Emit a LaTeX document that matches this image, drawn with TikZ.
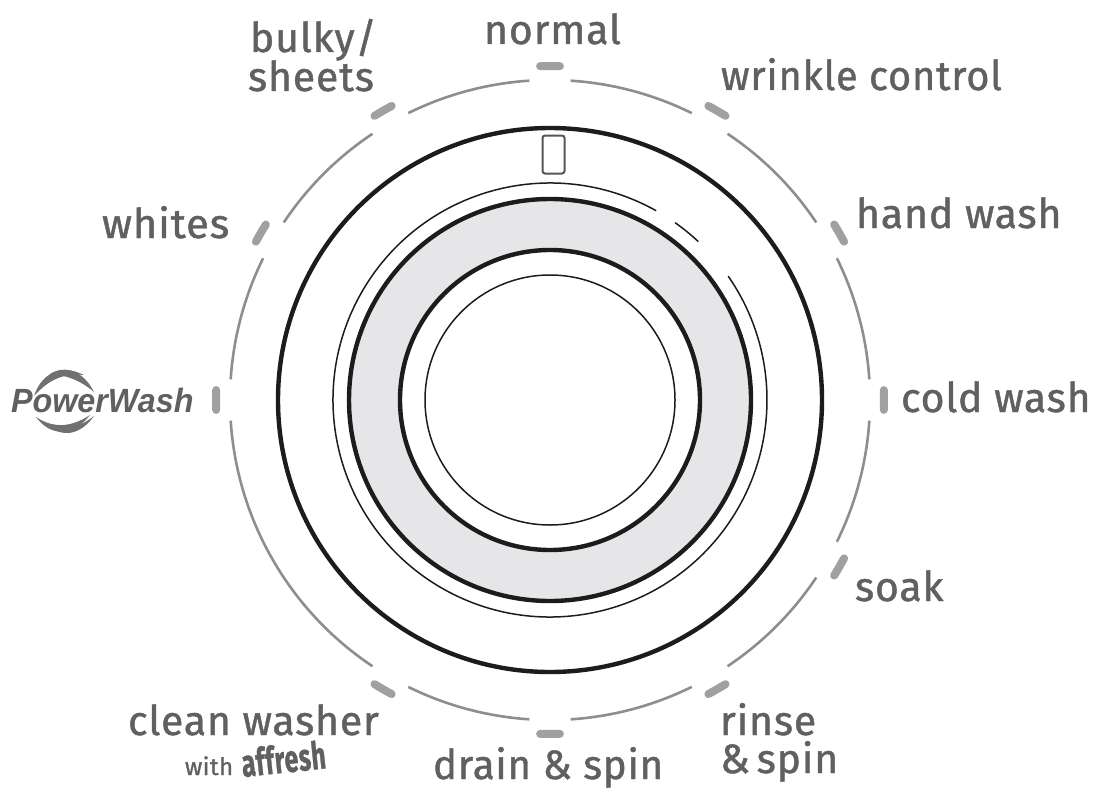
\documentclass[tikz,border=0pt]{standalone}
\usepackage{fontspec}
\usepackage{graphicx}
\usetikzlibrary{calc}
\setmainfont{Fira Sans}[LetterSpace=2,FakeBold=1.1]
\newfontfamily\pwfont{Liberation Sans}[Scale=1]
\definecolor{lbl}{HTML}{606060}
\definecolor{tickc}{HTML}{A0A0A0}
\definecolor{arcc}{HTML}{8E8E8E}
\definecolor{ringfill}{HTML}{E6E6E9}
\definecolor{ringk}{HTML}{1C1C1C}
\tikzset{
  x=1pt,y=-1pt,
  lab/.style={anchor=base west,inner sep=0pt,outer sep=0pt,text=lbl,font=\fontsize{41}{43}\selectfont},
  tick/.style={line width=8pt,color=tickc,line cap=round},
  seg/.style={line width=2.6pt,color=arcc},
  heavy/.style={line width=4.4pt,color=ringk},
  fine/.style={line width=1.5pt,color=ringk},
  swirl/.style={fill=lbl!90!white}
}
\begin{document}
\begin{tikzpicture}
\useasboundingbox (0,0) rectangle (1099,789);
\coordinate (c) at (550,400);
% dial rings
\draw[heavy] (c) circle[radius=272];
\fill[ringfill] (c) circle[radius=201];
\fill[white] (c) circle[radius=150];
\draw[heavy] (c) circle[radius=201];
\draw[heavy] (c) circle[radius=150];
\draw[fine] (c) circle[radius=125];
% thin broken ring
\draw[fine] ($(c)+(-60.7:217)$) arc[start angle=-60.7,end angle=-394.8,radius=217];
\draw[fine] ($(c)+(-54.8:217)$) arc[start angle=-54.8,end angle=-46.9,radius=217];
% outer segments
\foreach \a/\b in {3.7/26.3,33.7/56.3,63.7/86.3,93.7/116.3,123.7/146.3,153.7/176.3,183.7/236.3,243.7/266.3,273.7/296.3,303.7/326.3,333.7/356.3}{
  \draw[seg] ($(c)+(-\a:320)$) arc[start angle=-\a,end angle=-\b,radius=320];
}
% tick marks
\foreach \a in {0,30,60,90,120,150,180,240,270,300,330}{
  \draw[tick] ($(c)+({-\a-1.7}:334)$) arc[start angle={-\a-1.7},end angle={-\a+1.7},radius=334];
}
% window
\node[draw=ringk!75!white,line width=2pt,rounded corners=2.5pt,minimum width=22pt,minimum height=38pt,inner sep=0pt] (window) at (553.5,154.5) {};
% labels
\node[lab] (normal) at (484,44) {normal};
\node[lab] (bulky) at (250,52) {bulky/};
\node[lab] (sheets) at (248,91) {sheets};
\node[lab] (wrinkle) at (721,90) {\scalebox{.97}[1]{wrinkle control}};
\node[lab] (hand) at (856,228) {hand wash};
\node[lab] (cold) at (901,412) {cold wash};
\node[lab] (soak) at (855,601) {soak};
\node[lab] (rinse) at (720,735) {rinse};
\node[lab] (spin) at (720,773) {\&\,spin};
\node[lab] (drain) at (433,779) {\scalebox{.98}[1]{drain \& spin}};
\node[lab] (clean) at (128,735) {clean washer};
\node[lab] (whites) at (102,238) {\scalebox{1.02}[1]{whites}};
\node[lab,font=\fontsize{24}{25}\selectfont] (with) at (185,775) {with};
\node[lab,rotate=6,font=\fontsize{38}{38}\bfseries\selectfont] (affresh) at (243,777) {\scalebox{.66}[1]{affresh}};
% PowerWash swirl
\path[swirl] (34,396) .. controls (42,372) and (62,364) .. (84,375) .. controls (66,373) and (50,378) .. (34,396) -- cycle;
\path[swirl] (50,374) .. controls (66,364) and (84,372) .. (94,392) .. controls (80,380) and (66,375) .. (50,374) -- cycle;
\path[swirl] (36,417) .. controls (50,436) and (72,438) .. (90,415) .. controls (72,427) and (54,429) .. (36,417) -- cycle;
\path[swirl] (48,424) .. controls (60,438) and (80,436) .. (94,416) .. controls (80,427) and (64,432) .. (48,424) -- cycle;
\node[lab,font=\pwfont\fontsize{32}{32}\bfseries\itshape\selectfont,text=lbl] (pw) at (11,412) {\scalebox{1.01}[1.05]{PowerWash}};
\end{tikzpicture}
\end{document}
